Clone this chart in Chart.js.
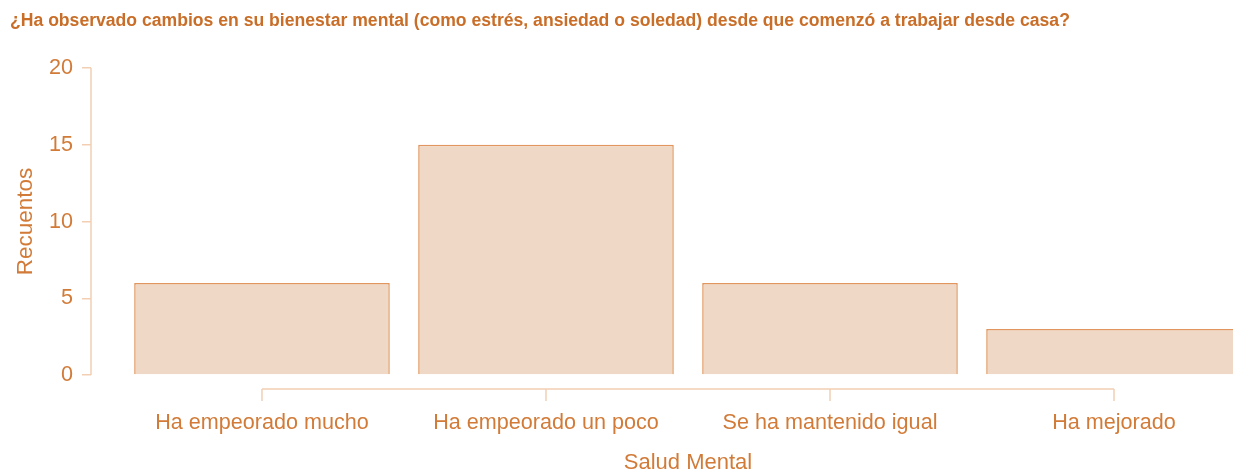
<!DOCTYPE html>
<html>
<head>
<meta charset="utf-8">
<script src="https://cdn.jsdelivr.net/npm/chart.js@4"></script>
<style>
  html, body { margin: 0; padding: 0; background: #fff; overflow: hidden; }
  #wrap { width: 1233px; height: 472px; position: relative; }
</style>
</head>
<body>
<div id="wrap"><canvas id="chart"></canvas></div>
<script>
// data
const categories = ['Ha empeorado mucho', 'Ha empeorado un poco', 'Se ha mantenido igual', 'Ha mejorado'];
const counts = [6, 15, 6, 3];
const yTicks = [0, 5, 10, 15, 20];

const titleText = '¿Ha observado cambios en su bienestar mental (como estrés, ansiedad o soledad) desde que comenzó a trabajar desde casa?';
const xTitle = 'Salud Mental';
const yTitle = 'Recuentos';

const textColor = '#d27b38';
const titleColor = '#c96e28';
const axisColor = '#f2cfb3';
const fontFam = '"Liberation Sans", Arial, sans-serif';

// draws the detached R-style axis lines and the x title
const axesPlugin = {
    id: 'detachedAxes',
    afterDraw(chart) {
        const {ctx, chartArea, scales} = chart;
        const x = scales.x, y = scales.y;
        ctx.save();
        ctx.strokeStyle = axisColor;
        ctx.lineWidth = 1.5;
        // y axis line from first to last tick
        ctx.beginPath();
        ctx.moveTo(chartArea.left, y.getPixelForValue(yTicks[0]));
        ctx.lineTo(chartArea.left, y.getPixelForValue(yTicks[yTicks.length - 1]));
        ctx.stroke();
        // x axis line, pushed below the bars
        const xLineY = chartArea.bottom + 14;
        const x0 = x.getPixelForValue(0);
        const x1 = x.getPixelForValue(categories.length - 1);
        ctx.beginPath();
        ctx.moveTo(x0, xLineY);
        ctx.lineTo(x1, xLineY);
        categories.forEach((c, i) => {
            const px = x.getPixelForValue(i);
            ctx.moveTo(px, xLineY);
            ctx.lineTo(px, xLineY + 12);
        });
        ctx.stroke();
        // x title centred on the axis line
        ctx.fillStyle = textColor;
        ctx.font = '22px ' + fontFam;
        ctx.textAlign = 'center';
        ctx.textBaseline = 'middle';
        ctx.fillText(xTitle, (x0 + x1) / 2, chartArea.bottom + 88);
        ctx.restore();
    }
};

const ctx = document.getElementById('chart').getContext('2d');
new Chart(ctx, {
    type: 'bar',
    data: {
        datasets: [{
            data: counts.map((v, i) => ({x: i, y: v})),
            backgroundColor: '#f0d8c6',
            borderColor: '#e0965e',
            borderWidth: 1.5,
            barPercentage: 0.9,
            categoryPercentage: 1
        }]
    },
    options: {
        responsive: true,
        maintainAspectRatio: false,
        animation: false,
        layout: { padding: { left: 10, right: 0, top: 0, bottom: 0 } },
        plugins: {
            legend: { display: false },
            tooltip: { enabled: false },
            title: {
                display: true,
                text: titleText,
                align: 'start',
                color: titleColor,
                font: { family: fontFam, size: 17.6, weight: 'bold' },
                padding: { top: 11, bottom: 36 }
            }
        },
        scales: {
            x: {
                type: 'linear',
                offset: false,
                min: -0.602,
                max: 3.419,
                afterBuildTicks: (scale) => {
                    scale.ticks = categories.map((c, i) => ({value: i}));
                },
                afterFit: (scale) => { scale.height = 97; },
                grid: { display: false, drawTicks: false, offset: false },
                border: { display: false },
                ticks: {
                    autoSkip: false,
                    maxRotation: 0,
                    padding: 35,
                    color: textColor,
                    font: { family: fontFam, size: 21.6 },
                    callback: (v) => categories[v]
                }
            },
            y: {
                min: 0,
                max: 20,
                afterBuildTicks: (scale) => {
                    scale.ticks = yTicks.map(v => ({value: v}));
                },
                afterFit: (scale) => { scale.width = 81; },
                grid: { drawOnChartArea: false, tickLength: 9, color: axisColor, lineWidth: 1.5 },
                border: { display: false },
                ticks: {
                    padding: 9,
                    color: textColor,
                    font: { family: fontFam, size: 21.6 }
                },
                title: {
                    display: true,
                    text: yTitle,
                    color: textColor,
                    font: { family: fontFam, size: 22.5 },
                    padding: { top: 2, bottom: 0 }
                }
            }
        }
    },
    plugins: [axesPlugin]
});
</script>
</body>
</html>
